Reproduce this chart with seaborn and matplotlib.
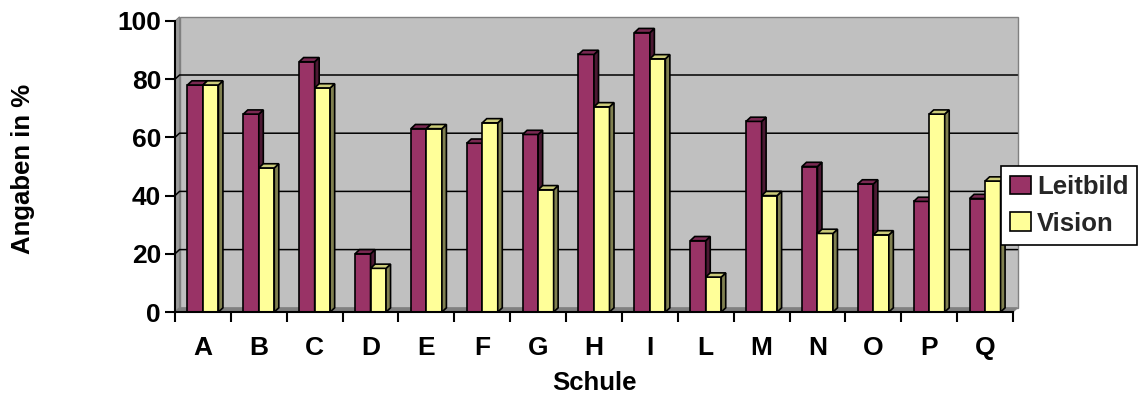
import numpy as np
import pandas as pd
import matplotlib
matplotlib.use("Agg")
import matplotlib.pyplot as plt
import seaborn as sns
from matplotlib.patches import Polygon, Rectangle, Patch

# Survey results per school (percent)
schulen = ["A", "B", "C", "D", "E", "F", "G", "H", "I", "L", "M", "N", "O", "P", "Q"]
leitbild = [78, 68, 86, 20, 63, 58, 61, 88.5, 96, 24.5, 65.5, 50, 44, 38, 39]
vision = [78, 49.5, 77, 15, 63, 65, 42, 70.5, 87, 12, 40, 27, 26.5, 68, 45]
serien = ["Leitbild", "Vision"]
y_ticks = [0, 20, 40, 60, 80, 100]

# Face colours: front, top, side
front_cols = ["#993366", "#ffff99"]
top_cols = ["#7a2952", "#cccc7a"]
side_cols = ["#4c1933", "#808050"]

sns.set_theme(style="white")
plt.rcParams["font.family"] = ["Liberation Sans", "DejaVu Sans"]
plt.rcParams["font.weight"] = "bold"

W, H = 1140, 396
fig = plt.figure(figsize=(W / 100, H / 100), dpi=100)
fig.patch.set_facecolor("white")
ax = fig.add_axes([175 / W, 1 - 312 / H, 838 / W, 291 / H])
ax.patch.set_visible(False)

n = len(schulen)
x_lo, x_hi = -0.5, n - 0.5
ax.set_xlim(x_lo, x_hi)
ax.set_ylim(0, 100)

# depth of the pseudo-3D effect, converted from pixels to data units
dx = 4.5 * (x_hi - x_lo) / 838
dy = 4.2 * 100 / 291

# back wall, side wall and floor
ax.add_patch(Rectangle((x_lo + dx, dy), x_hi - x_lo, 100, fc="#c0c0c0",
                       ec="#808080", lw=1.0, zorder=0, clip_on=False))
ax.add_patch(Polygon([(x_lo, 0), (x_lo + dx, dy), (x_lo + dx, 100 + dy), (x_lo, 100)],
                     closed=True, fc="#9a9a9a", ec="#808080", lw=0.8, zorder=0.2, clip_on=False))
ax.add_patch(Polygon([(x_lo, 0), (x_hi, 0), (x_hi + dx, dy), (x_lo + dx, dy)],
                     closed=True, fc="#808080", ec="#808080", lw=0.8, zorder=0.2, clip_on=False))

# gridlines across side wall and back wall
for v in y_ticks[1:-1]:
    ax.plot([x_lo, x_lo + dx, x_hi + dx], [v, v + dy, v + dy], color="black",
            lw=1.1, zorder=0.5, clip_on=False, solid_joinstyle="miter")

df = pd.DataFrame({
    "Schule": schulen * 2,
    "Angabe": leitbild + vision,
    "Serie": [serien[0]] * n + [serien[1]] * n,
})

sns.barplot(data=df, x="Schule", y="Angabe", hue="Serie", order=schulen,
            hue_order=serien, palette=front_cols, saturation=1, width=0.555,
            edgecolor="black", linewidth=1.2, errorbar=None, legend=False, ax=ax)

# add top and side faces to each bar
for i, cont in enumerate(ax.containers):
    z = 2 + i
    for bar in cont:
        bar.set_zorder(z)
        bar.set_joinstyle("miter")
        x0, w, h = bar.get_x(), bar.get_width(), bar.get_height()
        top = Polygon([(x0, h), (x0 + dx, h + dy), (x0 + w + dx, h + dy), (x0 + w, h)],
                      closed=True, fc=top_cols[i], ec="black", lw=1.2, zorder=z,
                      clip_on=False, joinstyle="miter")
        side = Polygon([(x0 + w, 0), (x0 + w + dx, dy), (x0 + w + dx, h + dy), (x0 + w, h)],
                       closed=True, fc=side_cols[i], ec="black", lw=1.2, zorder=z,
                       clip_on=False, joinstyle="miter")
        ax.add_patch(side)
        ax.add_patch(top)

# axes, ticks and labels
for s in ["top", "right"]:
    ax.spines[s].set_visible(False)
for s in ["left", "bottom"]:
    ax.spines[s].set_color("black")
    ax.spines[s].set_linewidth(1.5)
    ax.spines[s].set_zorder(4)

ax.set_yticks(y_ticks)
ax.set_yticklabels([str(t) for t in y_ticks])
ax.tick_params(axis="y", length=7, width=1.5, direction="out", pad=3,
               labelsize=19, colors="black", left=True)
ax.set_xticks(range(n))
ax.set_xticklabels(schulen)
ax.set_xticks(np.arange(x_lo, x_hi + 0.01, 1), minor=True)
ax.tick_params(axis="x", which="major", length=0, pad=17, labelsize=19, colors="black")
ax.tick_params(axis="x", which="minor", length=7, width=1.5, direction="out",
               colors="black", bottom=True)
for lab in ax.get_xticklabels() + ax.get_yticklabels():
    lab.set_fontweight("bold")

ax.set_xlabel("Schule", fontsize=18.5, fontweight="bold", color="black")
ax.xaxis.label.set_va("center")
ax.xaxis.set_label_coords(0.5, -0.244)
ax.set_ylabel("Angaben in %", fontsize=18.5, fontweight="bold", color="black")
ax.yaxis.label.set_va("center")
ax.yaxis.set_label_coords((23 - 175) / 838, (312 - 169) / 291)

handles = [Patch(fc=c, ec="black", lw=1.2) for c in front_cols]
leg = ax.legend(handles, serien, loc="upper left",
                bbox_to_anchor=(1001 / W, 1 - 166 / H), bbox_transform=fig.transFigure,
                frameon=True, fancybox=False, edgecolor="black", framealpha=1,
                prop={"size": 18.5, "weight": "bold"}, handlelength=0.8,
                handleheight=0.75, handletextpad=0.25, borderpad=0.35,
                labelspacing=0.5, borderaxespad=0)
leg.get_frame().set_linewidth(1.2)
leg.set_zorder(6)

fig.savefig("out.png", dpi=100)
